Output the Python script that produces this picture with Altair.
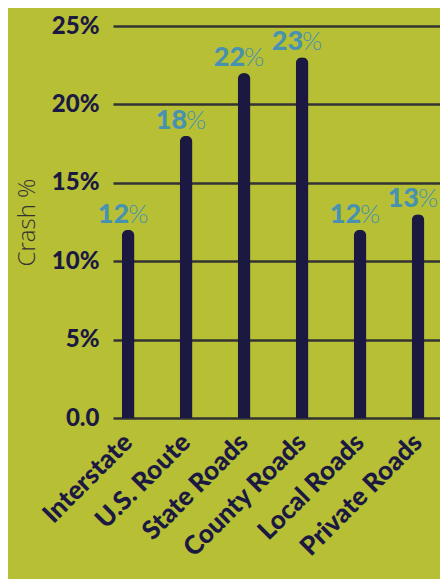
import altair as alt
import pandas as pd

categories = ["Interstate", "U.S. Route", "State Roads", "County Roads", "Local Roads", "Private Roads"]
values = [0.12, 0.18, 0.22, 0.23, 0.12, 0.13]
num_labels = ["12", "18", "22", "23", "12", "13"]

df = pd.DataFrame({"cat": categories, "val": values, "num": num_labels})

BG = "#b7bf35"
BAR = "#1b1942"
LBL = "#4791b1"

x = alt.X("cat:N", sort=categories, title=None,
          scale=alt.Scale(paddingInner=0.78, paddingOuter=0.21, align=0.36),
          axis=alt.Axis(labelAngle=-45, labelAlign="right", labelBaseline="middle",
                        labelFont="Lato", labelFontWeight=900, labelFontSize=26,
                        labelColor=BAR, ticks=False, domain=False, labelPadding=20,
                        labelOverlap=False, labelLimit=300, grid=False))
y = alt.Y("val:Q", title="Crash %",
          scale=alt.Scale(domain=[0, 0.25], nice=False, zero=True),
          axis=alt.Axis(values=[0, 0.05, 0.10, 0.15, 0.20, 0.25],
                        labelExpr="datum.value == 0 ? '0.0' : format(datum.value, '.0%')",
                        labelFont="Lato", labelFontWeight=900, labelFontSize=24,
                        labelColor=BAR, labelPadding=14, ticks=False, domain=False,
                        grid=True, gridColor="#333333", gridWidth=2.5, gridOpacity=1,
                        titleFont="Open Sans", titleFontWeight=300, titleFontSize=24,
                        titleColor="#333333", titlePadding=12))

bars = alt.Chart(df).mark_bar(color=BAR, cornerRadiusTopLeft=6.5, cornerRadiusTopRight=6.5).encode(x=x, y=y)

nums = alt.Chart(df).mark_text(align="right", baseline="alphabetic", dx=1, dy=-7,
                               font="Lato", fontWeight=900, fontSize=27, color=LBL).encode(
    x=x, y=y, text="num:N")
pct = alt.Chart(df).mark_text(align="left", baseline="alphabetic", dx=0, dy=-7,
                              font="Lato", fontWeight=300, fontSize=26, color=LBL).encode(
    x=x, y=y, text=alt.value("%"))

chart = alt.layer(bars, nums, pct).properties(
    width=327, height=392,
    background=BG,
    autosize=alt.AutoSizeParams(type="none"),
    padding={"left": 105, "top": 18, "right": 0, "bottom": 161},
).configure_view(stroke=None)

chart.save("out.html", embed_options={"renderer": "svg", "actions": False})
